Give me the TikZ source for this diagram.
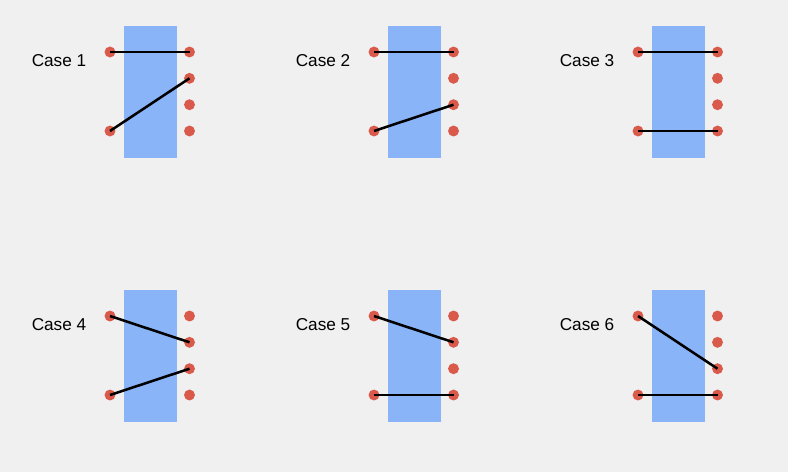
\documentclass[tikz,border=0pt]{standalone}
\usepackage{fontspec}
\setmainfont{Liberation Sans}
\definecolor{bg}{HTML}{F0F0F0}
\definecolor{panel}{HTML}{8AB4F8}
\definecolor{pin}{HTML}{D95A4B}
\begin{document}
\begin{tikzpicture}[x=0.75pt,y=-0.75pt,
  panelbox/.style={fill=panel,draw=none},
  pindot/.style={circle,fill=pin,draw=none,minimum size=8.2pt,inner sep=0pt},
  wire/.style={draw=black,line width=1.9pt},
  caselabel/.style={anchor=base west,font=\fontsize{12.9pt}{14pt}\selectfont,inner sep=0pt}]
\fill[bg] (0,0) rectangle (788,472);
\useasboundingbox (0,0) rectangle (788,472);
\foreach \n/\col/\row/\a/\b in {1/0/0/0/1, 2/1/0/0/2, 3/2/0/0/3, 4/0/1/1/2, 5/1/1/1/3, 6/2/1/2/3}{
  \begin{scope}[shift={(264*\col,264*\row)}]
    \path[panelbox] (123.5,26) rectangle (176.5,158);
    \node[caselabel] (t\n) at (31.5,66) {Case \n};
    \node[pindot] (L\n a) at (110,52) {};
    \node[pindot] (L\n b) at (110,131) {};
    \node[pindot] (R\n 0) at (189.5,52) {};
    \node[pindot] (R\n 1) at (189.5,78.3) {};
    \node[pindot] (R\n 2) at (189.5,104.7) {};
    \node[pindot] (R\n 3) at (189.5,131) {};
    \draw[wire] (L\n a.center) -- (R\n \a.center);
    \draw[wire] (L\n b.center) -- (R\n \b.center);
  \end{scope}
}
\end{tikzpicture}
\end{document}
